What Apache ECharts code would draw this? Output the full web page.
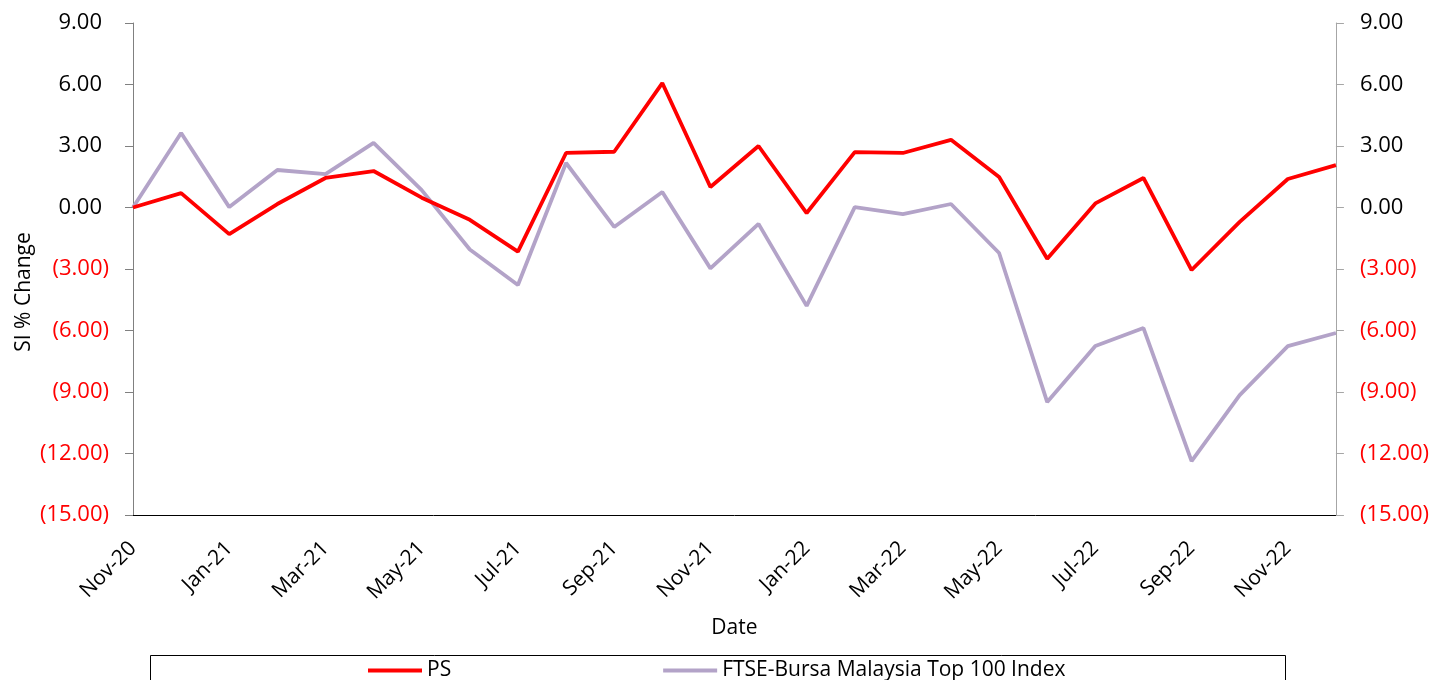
<!DOCTYPE html>
<html>
<head>
<meta charset="utf-8">
<style>
  html, body { margin: 0; padding: 0; background: #fff; }
  #chart { width: 1432px; height: 680px; }
</style>
<script src="https://cdn.jsdelivr.net/npm/echarts@6/dist/echarts.min.js"></script>
</head>
<body>
<div id="chart"></div>
<script>
// months, Nov-20 .. Dec-22
const months = [
  'Nov-20', 'Dec-20', 'Jan-21', 'Feb-21', 'Mar-21', 'Apr-21', 'May-21', 'Jun-21', 'Jul-21',
  'Aug-21', 'Sep-21', 'Oct-21', 'Nov-21', 'Dec-21', 'Jan-22', 'Feb-22', 'Mar-22', 'Apr-22',
  'May-22', 'Jun-22', 'Jul-22', 'Aug-22', 'Sep-22', 'Oct-22', 'Nov-22', 'Dec-22'
]
const psValues = [
  0.00, 0.70, -1.30, 0.17, 1.44, 1.78, 0.48, -0.60, -2.15,
  2.66, 2.72, 6.07, 1.00, 3.00, -0.27, 2.70, 2.66, 3.30,
  1.49, -2.50, 0.20, 1.44, -3.05, -0.70, 1.39, 2.07
]
const ftseValues = [
  0.00, 3.63, 0.02, 1.83, 1.63, 3.15, 0.85, -2.05, -3.78,
  2.17, -0.95, 0.76, -2.97, -0.80, -4.80, 0.02, -0.32, 0.17,
  -2.22, -9.49, -6.76, -5.88, -12.37, -9.15, -6.76, -6.12
]

const font = 'Open Sans'
const chart = echarts.init(document.getElementById('chart'))

// accounting style: negatives in red brackets
function fmt(v) {
    return v < 0
        ? '{neg|(' + Math.abs(v).toFixed(2) + ')}'
        : '{pos|' + v.toFixed(2) + '}'
}

function yAxisFor(side) {
    const padRight = side === 'left' ? 7 : 0
    const lineColor = side === 'left' ? '#808080' : '#a6a6a6'
    return {
        type: 'value',
        position: side,
        min: -15,
        max: 9,
        interval: 3,
        splitLine: { show: false },
        axisTick: { show: true, length: 8, lineStyle: { color: lineColor } },
        axisLine: { show: true, lineStyle: { color: lineColor } },
        axisLabel: {
            formatter: fmt,
            margin: 24,
            rich: {
                pos: { color: '#000', fontFamily: font, fontSize: 22, padding: [0, padRight, 0, 0] },
                neg: { color: '#ff0000', fontFamily: font, fontSize: 22 }
            }
        }
    }
}

const left = yAxisFor('left')
left.name = 'SI % Change'
left.nameLocation = 'middle'
left.nameGap = 98
left.nameMoveOverlap = false
left.nameTextStyle = { fontFamily: font, fontSize: 21, color: '#000', padding: [0, 46, 0, 0] }

chart.setOption({
    backgroundColor: '#fff',
    animation: false,
    grid: { left: 133, right: 95, top: 23, bottom: 165 },
    graphic: [{
        type: 'rect',
        shape: { x: 150.5, y: 655.5, width: 1135, height: 40 },
        style: { fill: 'none', stroke: '#000', lineWidth: 1 },
        silent: true
    }],
    legend: {
        left: 368,
        top: 660,
        padding: 0,
        itemWidth: 54,
        itemHeight: 4,
        itemGap: 212,
        icon: 'rect',
        textStyle: { fontFamily: font, fontSize: 21, color: '#000' },
        data: ['PS', 'FTSE-Bursa Malaysia Top 100 Index']
    },
    xAxis: {
        type: 'category',
        data: months,
        boundaryGap: false,
        name: 'Date',
        nameLocation: 'middle',
        nameGap: 103,
        nameTextStyle: { fontFamily: font, fontSize: 21, color: '#000' },
        axisLine: { onZero: false, lineStyle: { color: '#000', width: 1 } },
        axisTick: { show: false },
        axisLabel: {
            interval: 1,
            rotate: 45,
            margin: 30,
            fontFamily: font,
            fontSize: 21,
            color: '#000'
        }
    },
    yAxis: [left, yAxisFor('right')],
    series: [
        {
            name: 'FTSE-Bursa Malaysia Top 100 Index',
            type: 'line',
            data: ftseValues,
            symbol: 'none',
            lineStyle: { color: '#b3a3c8', width: 3.8 },
            itemStyle: { color: '#b3a3c8' }
        },
        {
            name: 'PS',
            type: 'line',
            data: psValues,
            symbol: 'none',
            lineStyle: { color: '#ff0000', width: 3.8 },
            itemStyle: { color: '#ff0000' }
        }
    ]
})
</script>
</body>
</html>
